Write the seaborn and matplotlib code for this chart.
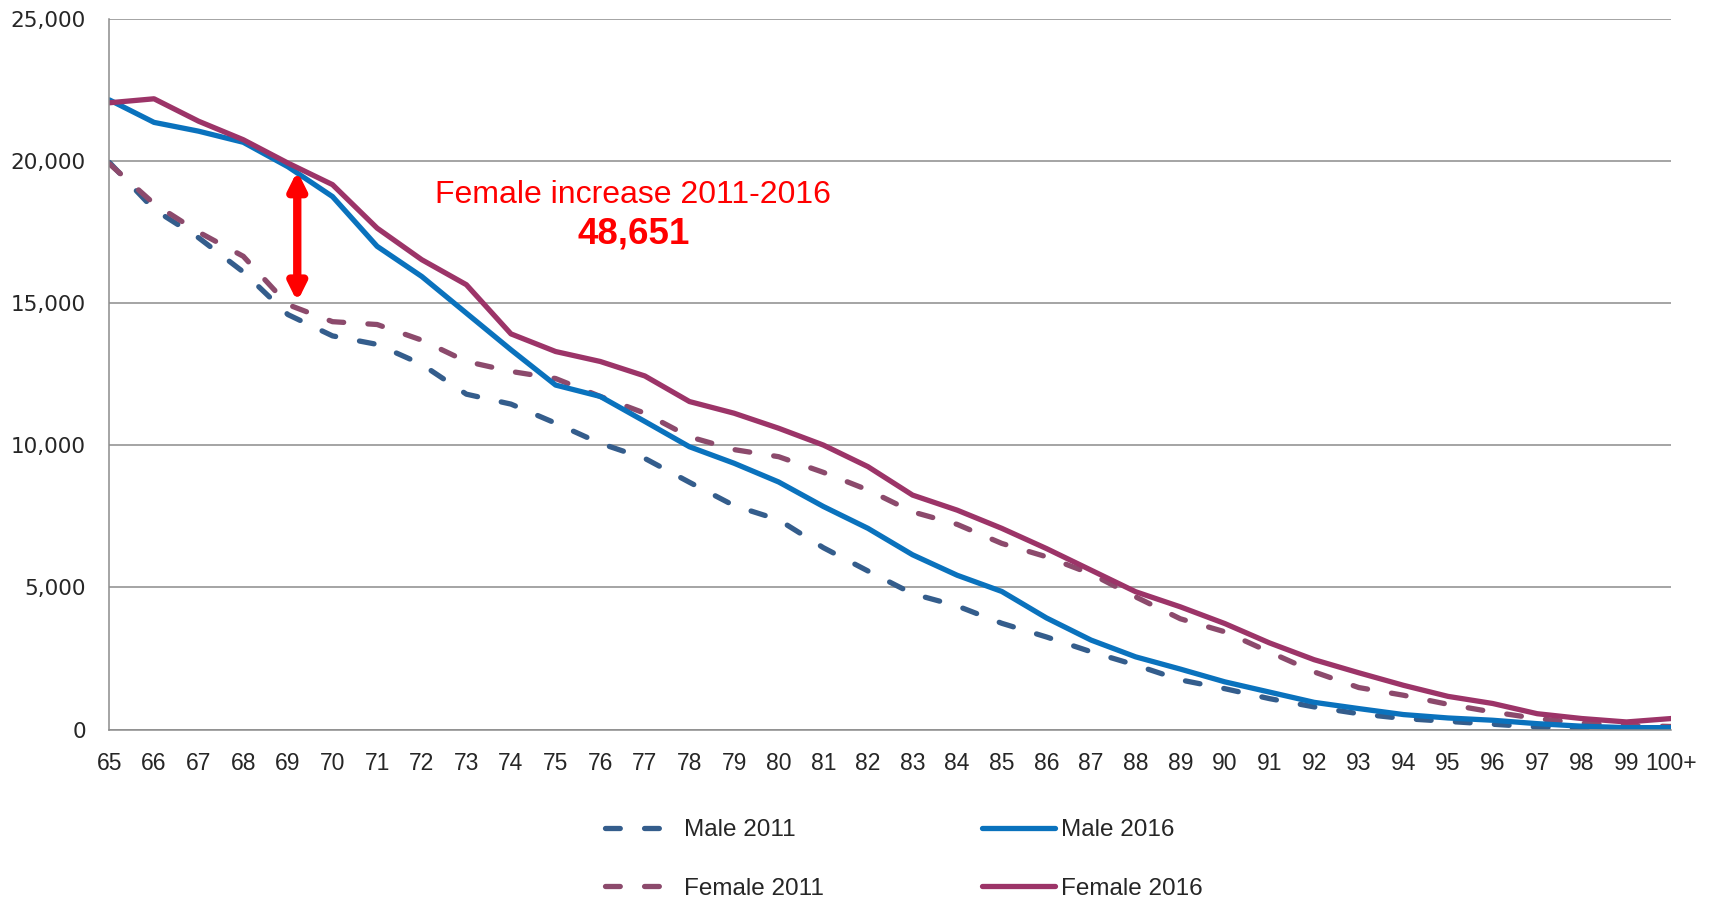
import matplotlib
matplotlib.use('Agg')
import matplotlib.pyplot as plt
import numpy as np
import pandas as pd
import seaborn as sns

# population aged 65+ by single year of age, 2011 vs 2016
ages = [str(a) for a in range(65, 100)] + ['100+']

male_2011 = [19950, 18300, 17300, 16100, 14600, 13850, 13550, 12850, 11800, 11450,
             10780, 10070, 9540, 8700, 7880, 7380, 6400, 5580, 4780, 4350,
             3740, 3260, 2740, 2270, 1750, 1440, 1090, 800, 560, 390,
             290, 190, 90, 50, 30, 30]
male_2016 = [22150, 21360, 21050, 20660, 19800, 18750, 17000, 15940, 14650, 13360,
             12120, 11720, 10840, 9950, 9370, 8710, 7850, 7080, 6150, 5430,
             4860, 3930, 3150, 2560, 2130, 1680, 1320, 960, 740, 530,
             410, 330, 210, 120, 70, 70]
female_2011 = [19900, 18500, 17500, 16650, 14950, 14350, 14250, 13700, 12950, 12600,
               12350, 11720, 11130, 10300, 9850, 9600, 9050, 8430, 7660, 7220,
               6550, 6080, 5480, 4670, 3900, 3440, 2730, 2030, 1480, 1210,
               890, 620, 390, 230, 150, 110]
female_2016 = [22050, 22190, 21400, 20750, 19930, 19170, 17640, 16530, 15650, 13920,
               13300, 12950, 12440, 11540, 11130, 10600, 10010, 9250, 8250, 7720,
               7080, 6370, 5610, 4850, 4320, 3730, 3050, 2460, 2000, 1560,
               1170, 920, 560, 390, 270, 390]

series_names = ['Male 2011', 'Female 2011', 'Male 2016', 'Female 2016']
series_vals = [male_2011, female_2011, male_2016, female_2016]
colors = {'Male 2011': '#345d8c', 'Female 2011': '#8c4a6c',
          'Male 2016': '#0a72bd', 'Female 2016': '#9c3468'}
dash_map = {'Male 2011': (2.8, 4.6), 'Female 2011': (2.8, 4.6),
            'Male 2016': '', 'Female 2016': ''}

increase_label = 'Female increase 2011-2016'
increase_value = '48,651'

rows = []
for name, vals in zip(series_names, series_vals):
    for ii, v in enumerate(vals):
        rows.append({'pos': ii, 'age': ages[ii], 'population': v, 'series': name})
df = pd.DataFrame(rows)

sns.set_style('white')
plt.rcParams['font.family'] = ['DejaVu Sans']
narrow = ['Liberation Sans', 'DejaVu Sans']

fig = plt.figure(figsize=(17.15, 9), dpi=100)
ax = fig.add_axes([0.0638, 0.1893, 0.9106, 0.7897])

sns.lineplot(data=df, x='pos', y='population', hue='series', style='series',
             hue_order=series_names, style_order=series_names,
             palette=colors, dashes=dash_map, lw=3.8, legend=False, ax=ax)
for line in ax.lines:
    line.set_dash_capstyle('round')
    line.set_solid_capstyle('round')

ax.set_xlim(0, len(ages) - 1)
ax.set_ylim(0, 25000)
ax.set_xticks(range(len(ages)))
ax.set_xticklabels(ages, family=narrow, fontsize=16.5)
ax.set_yticks(np.arange(0, 25001, 5000))
ax.set_yticklabels(['{:,}'.format(v) for v in range(0, 25001, 5000)], fontsize=15.5)
ax.set_xlabel('')
ax.set_ylabel('')
ax.grid(axis='y', color='#8c8c8c', lw=1.1)
ax.grid(axis='x', visible=False)
ax.set_axisbelow(True)
for side in ['top', 'right']:
    ax.spines[side].set_visible(False)
for side in ['left', 'bottom']:
    ax.spines[side].set_color('#8c8c8c')
    ax.spines[side].set_linewidth(1.1)
ax.tick_params(axis='x', direction='out', length=7, width=1.1, color='#8c8c8c', pad=9)
ax.tick_params(axis='y', direction='out', length=7, width=1.1, color='#8c8c8c', pad=10)

# red double arrow + annotation
ax.annotate('', xy=(4.21, 19650), xytext=(4.21, 15050),
            arrowprops=dict(arrowstyle='<|-|>', color='red', lw=6, mutation_scale=25,
                            shrinkA=0, shrinkB=0))
ax.text(11.74, 18820, increase_label, color='red', fontsize=23,
        family=narrow, ha='center', va='center')
ax.text(11.74, 17440, increase_value, color='red', fontsize=26.5, fontweight='bold',
        family=narrow, ha='center', va='center')

handles = ax.lines[:4]
fig.legend(handles, series_names, ncol=2, loc='center', bbox_to_anchor=(0.527, 0.045),
           frameon=False, handlelength=3.0, handletextpad=0.25,
           labelspacing=1.5, columnspacing=6.53,
           prop={'family': narrow, 'size': 17.5})

fig.savefig('out.png', dpi=100)
